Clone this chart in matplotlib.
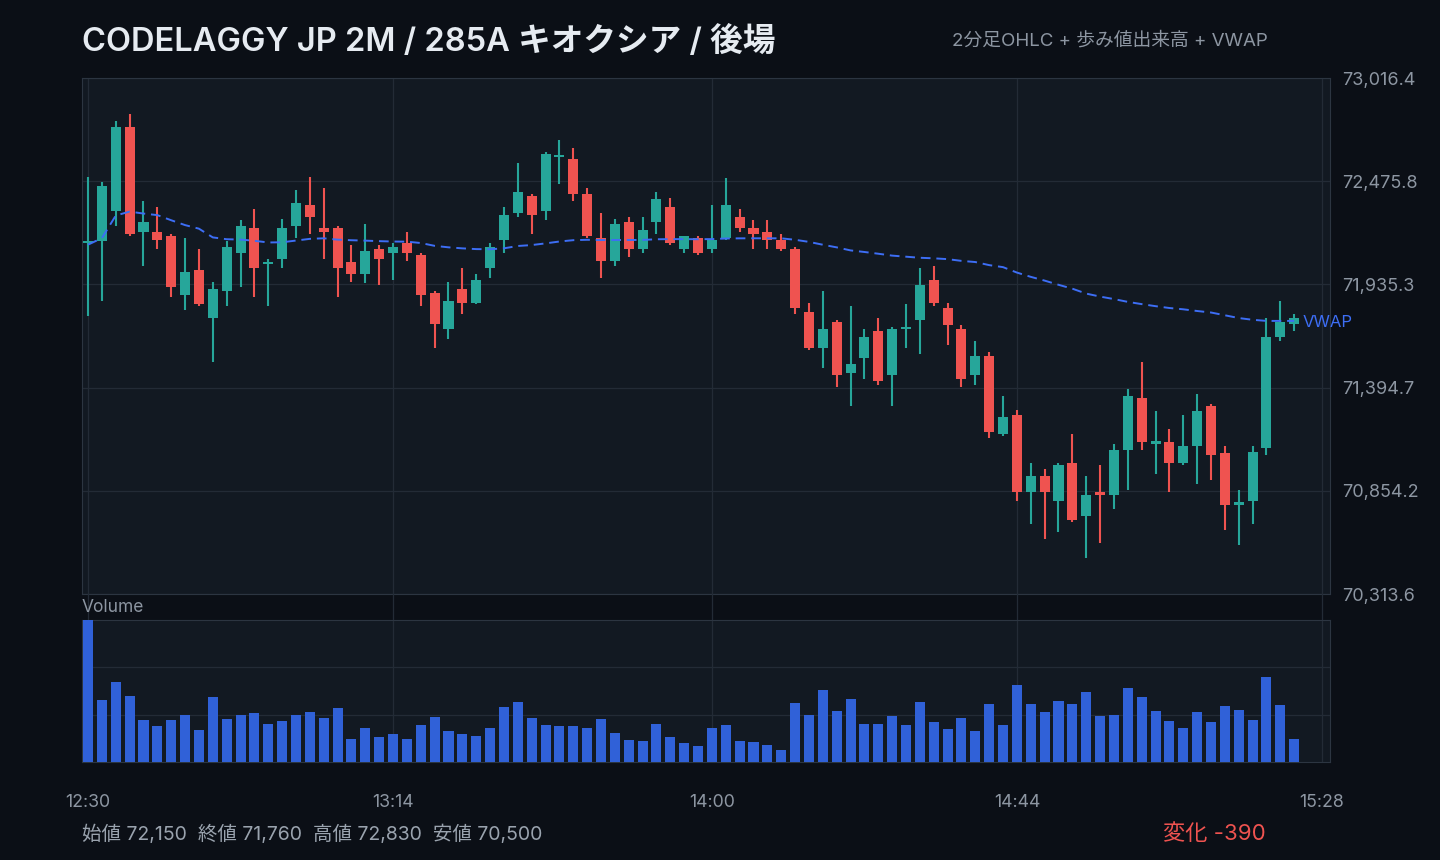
import numpy as np
import matplotlib.pyplot as plt

#############################################################
# データ (2分足, 12:30 - 15:24)
#############################################################
opens = [72150, 72160, 72320, 72760, 72210, 72210, 72190, 71880, 72010, 71760,
         71900, 72100, 72230, 72040, 72070, 72240, 72350, 72230, 72230, 72050,
         71990, 72120, 72100, 72150, 72090, 71890, 71700, 71910, 71840, 72020,
         72170, 72310, 72400, 72320, 72600, 72590, 72410, 72180, 72060, 72260,
         72120, 72260, 72340, 72120, 72180, 72120, 72180, 72290, 72230, 72210,
         72170, 72120, 71790, 71600, 71740, 71470, 71550, 71690, 71460, 71700,
         71750, 71960, 71810, 71700, 71460, 71560, 71150, 71250, 70850, 70930,
         70800, 71000, 70720, 70850, 70830, 71070, 71340, 71100, 71110, 71000,
         71090, 71300, 71050, 70780, 70800, 71080, 71660, 71730]
highs = [72500, 72470, 72790, 72830, 72370, 72340, 72200, 72180, 72120, 71950,
         72160, 72270, 72330, 72070, 72280, 72430, 72500, 72440, 72240, 72140,
         72250, 72140, 72150, 72210, 72100, 71900, 71950, 72020, 71990, 72150,
         72340, 72570, 72410, 72630, 72690, 72650, 72440, 72310, 72280, 72290,
         72290, 72420, 72390, 72190, 72190, 72350, 72490, 72330, 72270, 72270,
         72200, 72130, 71840, 71900, 71750, 71820, 71700, 71760, 71710, 71830,
         72020, 72030, 71840, 71720, 71640, 71580, 71350, 71280, 71000, 70970,
         71000, 71150, 70930, 70990, 71100, 71390, 71530, 71270, 71180, 71250,
         71360, 71310, 71090, 70860, 71090, 71760, 71850, 71780]
lows = [71770, 71850, 72240, 72190, 72030, 72120, 71870, 71800, 71820, 71530,
        71820, 71920, 71870, 71820, 72020, 72180, 72200, 72070, 71870, 71950,
        71940, 71930, 71960, 72060, 71820, 71600, 71650, 71780, 71830, 71970,
        72100, 72290, 72200, 72270, 72460, 72370, 72180, 71970, 72030, 72080,
        72100, 72200, 72140, 72100, 72090, 72100, 72170, 72210, 72120, 72120,
        72110, 71780, 71590, 71500, 71400, 71300, 71440, 71410, 71300, 71600,
        71570, 71820, 71620, 71400, 71410, 71130, 71140, 70800, 70680, 70600,
        70640, 70690, 70500, 70580, 70760, 70860, 71070, 70940, 70850, 70990,
        70890, 70910, 70650, 70570, 70680, 71040, 71640, 71690]
closes = [72160, 72450, 72760, 72200, 72260, 72170, 71920, 72000, 71830, 71910,
          72130, 72240, 72020, 72050, 72230, 72360, 72290, 72210, 72020, 71990,
          72110, 72070, 72130, 72100, 71880, 71730, 71850, 71840, 71960, 72130,
          72300, 72420, 72300, 72620, 72610, 72410, 72190, 72060, 72250, 72120,
          72220, 72380, 72150, 72190, 72100, 72170, 72350, 72230, 72200, 72170,
          72120, 71810, 71600, 71700, 71460, 71520, 71660, 71430, 71700, 71710,
          71930, 71840, 71720, 71440, 71560, 71160, 71240, 70850, 70930, 70850,
          70990, 70700, 70830, 70830, 71070, 71350, 71110, 71110, 71000, 71090,
          71270, 71040, 70780, 70790, 71060, 71660, 71740, 71760]
# 出来高 (千株)
volumes = [355, 155, 200, 165, 105, 90, 105, 118, 80, 163,
           108, 118, 123, 95, 103, 118, 125, 110, 135, 58,
           85, 63, 70, 58, 93, 113, 78, 70, 65, 85,
           138, 150, 110, 93, 90, 90, 85, 108, 73, 55,
           53, 95, 63, 48, 40, 85, 93, 53, 50, 43,
           30, 148, 118, 180, 128, 158, 95, 95, 115, 93,
           150, 100, 83, 110, 78, 145, 93, 193, 145, 125,
           153, 145, 175, 115, 118, 185, 163, 128, 103, 85,
           125, 100, 140, 130, 105, 213, 143, 58]
tick_labels = ['12:30', '13:14', '14:00', '14:44', '15:28']

title = 'CODELAGGY JP 2M / 285A キオクシア / 後場'
subtitle = '2分足OHLC + 歩み値出来高 + VWAP'

#############################################################
# 色 / レイアウト
#############################################################
BG = '#0b0f16'
PANEL = '#121922'
GRID = '#232b36'
EDGE = '#2c3541'
TXT = '#8d96a2'
UP = '#26a69a'
DOWN = '#ef5350'
VOLC = '#3061d8'
VWAPC = '#3d6ef5'

plt.rcParams['font.family'] = ['Inter', 'Noto Sans CJK JP', 'DejaVu Sans']

W, H = 1440, 860
o = np.array(opens); h = np.array(highs); l = np.array(lows); c = np.array(closes)
v = np.array(volumes)
x = np.arange(len(o)) * 2  # 分 (12:30 起点)
tick_pos = [int(s[:2]) * 60 + int(s[3:]) - 750 for s in tick_labels]
xlim = (-0.87, 179.17)

cols = [UP if cc >= oo else DOWN for oo, cc in zip(o, c)]
tp = (h + l + c) / 3
vwap = np.cumsum(tp * v) / np.cumsum(v)

fig = plt.figure(figsize=(W / 100, H / 100), dpi=100, facecolor=BG)

# ---------------- ローソク足 ----------------
ax = fig.add_axes([82 / W, 1 - 594 / H, 1248 / W, 516 / H])
ax.set_facecolor(PANEL)
lo, hi = l.min(), h.max()
pad = (hi - lo) * 0.08
ax.set_ylim(lo - pad, hi + pad)
ax.set_xlim(*xlim)
yt = np.linspace(lo - pad, hi + pad, 6)
ax.set_yticks(yt)
ax.set_yticklabels([f'{t:,.1f}' for t in yt])
ax.yaxis.tick_right()
ax.tick_params(axis='y', length=0, pad=8.5, colors=TXT, labelsize=13)
ax.set_xticks(tick_pos)
ax.tick_params(axis='x', length=0, labelbottom=False)
ax.grid(True, color=GRID, lw=0.9)
ax.set_axisbelow(True)
for s in ax.spines.values():
    s.set_color(EDGE)

ax.vlines(x, l, h, colors=cols, lw=1.5, zorder=2)
body_lo = np.minimum(o, c)
body_h = np.maximum(np.abs(c - o), 14)
ax.bar(x, body_h, bottom=body_lo, width=1.45, color=cols, lw=0, zorder=3)

ax.plot(x, vwap, color=VWAPC, lw=1.4, ls=(0, (5, 3)), zorder=4)
ax.annotate('VWAP', (x[-1], vwap[-1]), xytext=(6, -1.5), textcoords='offset points',
            va='center', ha='left', color=VWAPC, fontsize=12)

# ---------------- すき間 ----------------
gax = fig.add_axes([82 / W, 1 - 620 / H, 1248 / W, 26 / H])
gax.set_xlim(*xlim)
gax.axis('off')
for p in tick_pos:
    gax.axvline(p, color=GRID, lw=0.9)

# ---------------- 出来高 ----------------
vax = fig.add_axes([82 / W, 1 - 762 / H, 1248 / W, 142 / H])
vax.set_facecolor(PANEL)
vax.bar(x, v, width=1.45, color=VOLC, lw=0, zorder=3)
vax.set_xlim(*xlim)
vax.set_ylim(0, v.max())
vax.set_yticks(np.linspace(0, v.max(), 4)[1:-1])
vax.tick_params(axis='y', length=0, labelleft=False)
vax.set_xticks(tick_pos)
vax.set_xticklabels(tick_labels)
vax.tick_params(axis='x', length=0, pad=23, colors=TXT, labelsize=12.8)
vax.grid(True, color=GRID, lw=0.9)
vax.set_axisbelow(True)
for s in vax.spines.values():
    s.set_color(EDGE)

# ---------------- テキスト ----------------
fig.text(82 / W, 1 - 42 / H, title, fontsize=23.5, weight='semibold',
         color='#e6ebf1', va='center')
fig.text(1268 / W, 1 - 41 / H, subtitle, fontsize=13.5, color=TXT,
         ha='right', va='center')
fig.text(82 / W, 1 - 607 / H, 'Volume', fontsize=12.5, color=TXT, va='center')

stats = (f'始値 {o[0]:,}  終値 {c[-1]:,}  高値 {h.max():,}  安値 {l.min():,}')
fig.text(82 / W, 1 - 834 / H, stats, fontsize=14, color='#9aa3ae', va='center')
chg = c[-1] - o[0]
fig.text(1266 / W, 1 - 834 / H, f'変化 {chg:,}',
         fontsize=16, color=DOWN if chg < 0 else UP, ha='right', va='center')

fig.savefig('out.png', dpi=100, facecolor=BG)
